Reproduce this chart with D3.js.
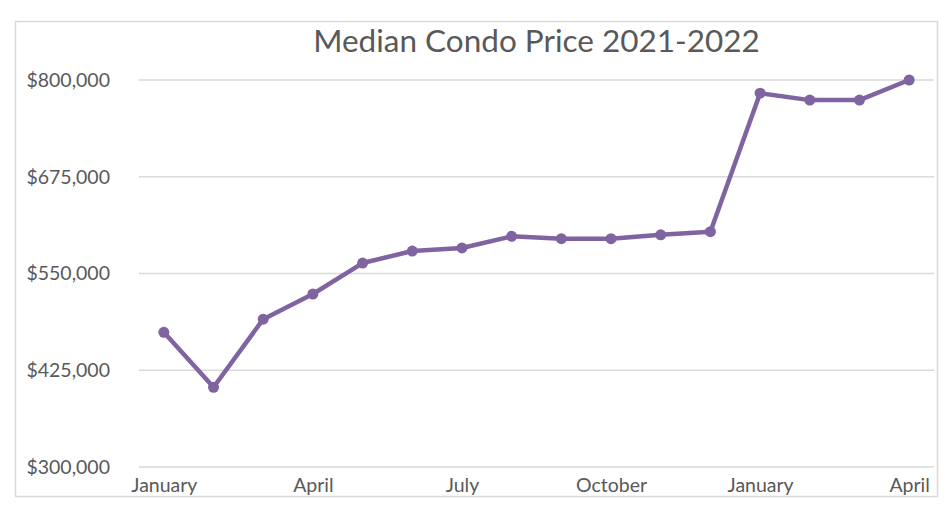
<!DOCTYPE html>
<html><head><meta charset="utf-8">
<script src="https://cdn.jsdelivr.net/npm/d3@7/dist/d3.min.js"></script>
<style>body{margin:0;background:#fff}svg{display:block}</style>
</head><body>
<svg id="c" width="952" height="512"></svg>
<script>
const categories = ["Jan 2021","Feb 2021","Mar 2021","Apr 2021","May 2021","Jun 2021","Jul 2021","Aug 2021","Sep 2021","Oct 2021","Nov 2021","Dec 2021","Jan 2022","Feb 2022","Mar 2022","Apr 2022"];
const monthLabels = ["January","","","April","","","July","","","October","","","January","","","April"];
const prices = [474000,403000,491000,523500,563500,579000,583000,598000,595000,595000,600000,604000,783000,774000,774000,800000];
const yTicks = [300000,425000,550000,675000,800000];
const title = "Median Condo Price 2021-2022";

const svg = d3.select("#c");
const font = "Lato, 'Open Sans', sans-serif";
const textColor = "#595959";
const plotL = 139, plotR = 934, plotT = 80, plotB = 467;

svg.append("rect").attr("x",15.5).attr("y",21.5).attr("width",922).attr("height",475)
  .attr("fill","#fff").attr("stroke","#d9d9d9").attr("stroke-width",1.5);

const x = d3.scalePoint().domain(categories).range([plotL,plotR]).padding(0.5);
const y = d3.scaleLinear().domain([300000,800000]).range([plotB,plotT]);

// gridlines
svg.append("g").selectAll("line").data(yTicks).join("line")
  .attr("x1",plotL).attr("x2",plotR)
  .attr("y1",d=>y(d)).attr("y2",d=>y(d))
  .attr("stroke","#d9d9d9").attr("stroke-width",1.5);

// y axis labels
const yAxis = d3.axisLeft(y).tickValues(yTicks).tickSize(0).tickPadding(0)
  .tickFormat(d=>"$"+d3.format(",")(d));
const ya = svg.append("g").attr("transform",`translate(110,0)`).call(yAxis);
ya.select(".domain").remove();
ya.selectAll("text").attr("font-family",font).attr("font-size",19.5).attr("fill",textColor);

// x axis labels
const xAxis = d3.axisBottom(x).tickSize(0).tickPadding(0).tickFormat((d,i)=>monthLabels[i]);
const xa = svg.append("g").attr("transform",`translate(0,${plotB+11})`).call(xAxis);
xa.select(".domain").remove();
xa.selectAll("text").attr("font-family",font).attr("font-size",19.5).attr("fill",textColor);

// line
const line = d3.line().x((d,i)=>x(categories[i])).y(d=>y(d));
svg.append("path").datum(prices).attr("d",line)
  .attr("fill","none").attr("stroke","#8064A2").attr("stroke-width",4.5)
  .attr("stroke-linejoin","round");
svg.append("g").selectAll("circle").data(prices).join("circle")
  .attr("cx",(d,i)=>x(categories[i])).attr("cy",d=>y(d)).attr("r",5.5)
  .attr("fill","#8064A2");

svg.append("text").attr("x",(plotL+plotR)/2).attr("y",52).attr("text-anchor","middle")
  .attr("font-family",font).attr("font-size",31.5).attr("fill",textColor).text(title);
</script>
</body></html>
